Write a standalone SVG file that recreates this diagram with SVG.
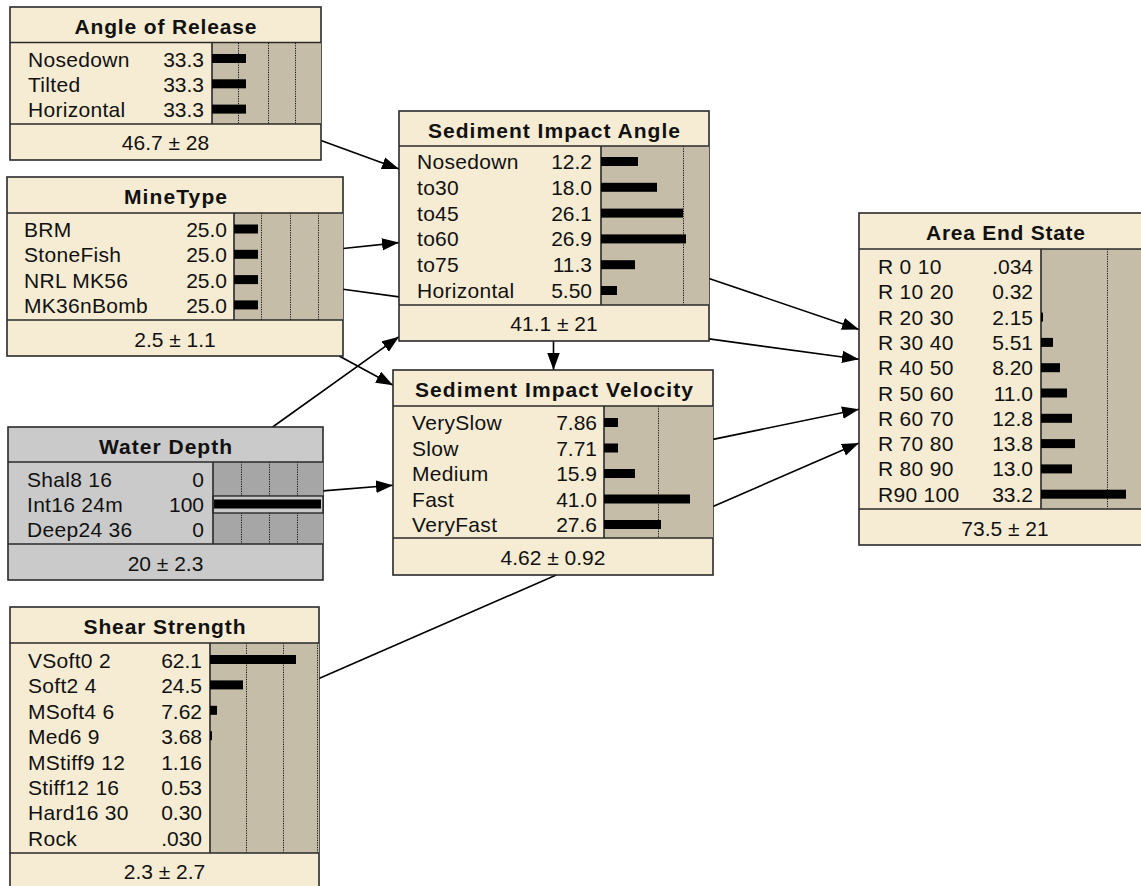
<svg xmlns="http://www.w3.org/2000/svg" width="1141" height="886" viewBox="0 0 1141 886">
  <style>
    text { font-family: "Liberation Sans", Arial, sans-serif; fill: #111; }
    .box { fill: #f6ecd4; stroke: #2a2a2a; stroke-width: 1.6; }
    .bararea { fill: #c6bda9; }
    .sep { stroke: #2a2a2a; stroke-width: 1.6; fill: none; }
    .dot { stroke: #111; stroke-width: 1; stroke-dasharray: 1.2 1.2; }
    .bar { fill: #000; }
    .title { font-size: 21px; font-weight: bold; text-anchor: middle; }
    .lbl { font-size: 21px; letter-spacing: 0.3px; }
    .val { font-size: 21px; text-anchor: end; }
    .foot { font-size: 21px; text-anchor: middle; }
    .link { stroke: #000; stroke-width: 1.6; fill: none; }
    .gray .box { fill: #cacaca; }
    .gray .bararea { fill: #a6a6a6; }
    .band { fill: #c8c8c8; stroke: #111; stroke-width: 1.2; }
  </style>
  <defs>
    <marker id="arrow" markerUnits="userSpaceOnUse" markerWidth="18" markerHeight="13" refX="17" refY="6.25" orient="auto">
      <path d="M0,0 L17,6.25 L0,12.5 z" fill="#000"/>
    </marker>
  </defs>

  <!-- links between nodes (centre to centre, clipped at the box edges) -->
  <g id="connectors">
    <line class="link" x1="321" y1="140.5" x2="399" y2="169.1" marker-end="url(#arrow)"/>
    <line class="link" x1="343" y1="248.5" x2="399" y2="242.6" marker-end="url(#arrow)"/>
    <line class="link" x1="339.2" y1="356" x2="393" y2="385.3" marker-end="url(#arrow)"/>
    <line class="link" x1="343" y1="289.3" x2="399" y2="296.9"/>
    <line class="link" x1="709" y1="338.9" x2="859" y2="359.2" marker-end="url(#arrow)"/>
    <line class="link" x1="553.5" y1="341" x2="553.5" y2="370" marker-end="url(#arrow)"/>
    <line class="link" x1="709" y1="278.5" x2="859" y2="329.4" marker-end="url(#arrow)"/>
    <line class="link" x1="713" y1="439.4" x2="859" y2="409.2" marker-end="url(#arrow)"/>
    <line class="link" x1="272.6" y1="427" x2="399" y2="336.7" marker-end="url(#arrow)"/>
    <line class="link" x1="323" y1="490.9" x2="393" y2="485.3" marker-end="url(#arrow)"/>
    <line class="link" x1="319" y1="678.6" x2="556.3" y2="575"/>
    <line class="link" x1="713" y1="506.6" x2="859" y2="442.9" marker-end="url(#arrow)"/>
  </g>

  <!-- Angle of Release -->
  <g id="node-angle-of-release">
    <rect class="box" x="10" y="7" width="311" height="153"/>
    <rect class="bararea" x="212" y="42.5" width="109" height="81.5"/>
    <line class="dot" x1="238.5" y1="43" x2="238.5" y2="124"/>
    <line class="dot" x1="268.5" y1="43" x2="268.5" y2="124"/>
    <line class="dot" x1="295.5" y1="43" x2="295.5" y2="124"/>
    <path class="sep" d="M10,42.5 H321 M212,42.5 V124 M10,124 H321"/>
    <text class="title" x="165.5" y="33.5" textLength="182" lengthAdjust="spacing">Angle of Release</text>
    <text class="lbl" x="28" y="66.5">Nosedown</text>
    <text class="lbl" x="28" y="91.8">Tilted</text>
    <text class="lbl" x="28" y="117.1">Horizontal</text>
    <text class="val" x="204" y="66.5">33.3</text>
    <text class="val" x="204" y="91.8">33.3</text>
    <text class="val" x="204" y="117.1">33.3</text>
    <rect class="bar" x="212" y="54" width="34" height="9"/>
    <rect class="bar" x="212" y="79.3" width="34" height="9"/>
    <rect class="bar" x="212" y="104.6" width="34" height="9"/>
    <text class="foot" x="165.5" y="150">46.7 ± 28</text>
  </g>

  <!-- MineType -->
  <g id="node-minetype">
    <rect class="box" x="7" y="177" width="336" height="179"/>
    <rect class="bararea" x="234" y="213" width="109" height="107"/>
    <line class="dot" x1="261.5" y1="213" x2="261.5" y2="320"/>
    <line class="dot" x1="290.5" y1="213" x2="290.5" y2="320"/>
    <line class="dot" x1="318.5" y1="213" x2="318.5" y2="320"/>
    <path class="sep" d="M7,213 H343 M234,213 V320 M7,320 H343"/>
    <text class="title" x="175.5" y="203.5" textLength="103" lengthAdjust="spacing">MineType</text>
    <text class="lbl" x="24" y="237">BRM</text>
    <text class="lbl" x="24" y="262.3">StoneFish</text>
    <text class="lbl" x="24" y="287.6">NRL MK56</text>
    <text class="lbl" x="24" y="312.9">MK36nBomb</text>
    <text class="val" x="227" y="237">25.0</text>
    <text class="val" x="227" y="262.3">25.0</text>
    <text class="val" x="227" y="287.6">25.0</text>
    <text class="val" x="227" y="312.9">25.0</text>
    <rect class="bar" x="234" y="224.5" width="24" height="9"/>
    <rect class="bar" x="234" y="249.8" width="24" height="9"/>
    <rect class="bar" x="234" y="275.1" width="24" height="9"/>
    <rect class="bar" x="234" y="300.4" width="24" height="9"/>
    <text class="foot" x="175" y="347">2.5 ± 1.1</text>
  </g>

  <!-- Sediment Impact Angle -->
  <g id="node-sediment-impact-angle">
    <rect class="box" x="399" y="111" width="310" height="230"/>
    <rect class="bararea" x="601" y="146" width="108" height="159"/>
    <line class="dot" x1="683.5" y1="146" x2="683.5" y2="305"/>
    <path class="sep" d="M399,146 H709 M601,146 V305 M399,305 H709"/>
    <text class="title" x="554" y="137.5" textLength="252" lengthAdjust="spacing">Sediment Impact Angle</text>
    <text class="lbl" x="417" y="169">Nosedown</text>
    <text class="lbl" x="417" y="194.8">to30</text>
    <text class="lbl" x="417" y="220.6">to45</text>
    <text class="lbl" x="417" y="246.4">to60</text>
    <text class="lbl" x="417" y="272.2">to75</text>
    <text class="lbl" x="417" y="298">Horizontal</text>
    <text class="val" x="592" y="169">12.2</text>
    <text class="val" x="592" y="194.8">18.0</text>
    <text class="val" x="592" y="220.6">26.1</text>
    <text class="val" x="592" y="246.4">26.9</text>
    <text class="val" x="592" y="272.2">11.3</text>
    <text class="val" x="592" y="298">5.50</text>
    <rect class="bar" x="601" y="157" width="37" height="9"/>
    <rect class="bar" x="601" y="182.8" width="56" height="9"/>
    <rect class="bar" x="601" y="208.6" width="82" height="9"/>
    <rect class="bar" x="601" y="234.4" width="85" height="9"/>
    <rect class="bar" x="601" y="260.2" width="34" height="9"/>
    <rect class="bar" x="601" y="286" width="16" height="9"/>
    <text class="foot" x="554" y="331">41.1 ± 21</text>
  </g>

  <!-- Sediment Impact Velocity -->
  <g id="node-sediment-impact-velocity">
    <rect class="box" x="393" y="370" width="320" height="205"/>
    <rect class="bararea" x="604" y="406" width="109" height="132"/>
    <line class="dot" x1="658.5" y1="406" x2="658.5" y2="538"/>
    <path class="sep" d="M393,406 H713 M604,406 V538 M393,538 H713"/>
    <text class="title" x="554" y="397" textLength="278" lengthAdjust="spacing">Sediment Impact Velocity</text>
    <text class="lbl" x="412" y="430">VerySlow</text>
    <text class="lbl" x="412" y="455.5">Slow</text>
    <text class="lbl" x="412" y="481">Medium</text>
    <text class="lbl" x="412" y="506.5">Fast</text>
    <text class="lbl" x="412" y="532">VeryFast</text>
    <text class="val" x="597" y="430">7.86</text>
    <text class="val" x="597" y="455.5">7.71</text>
    <text class="val" x="597" y="481">15.9</text>
    <text class="val" x="597" y="506.5">41.0</text>
    <text class="val" x="597" y="532">27.6</text>
    <rect class="bar" x="604" y="418" width="14" height="9"/>
    <rect class="bar" x="604" y="443.5" width="14" height="9"/>
    <rect class="bar" x="604" y="469" width="31" height="9"/>
    <rect class="bar" x="604" y="494.5" width="86" height="9"/>
    <rect class="bar" x="604" y="520" width="57" height="9"/>
    <text class="foot" x="553" y="565">4.62 ± 0.92</text>
  </g>

  <!-- Area End State -->
  <g id="node-area-end-state">
    <rect class="box" x="859" y="213" width="293" height="332"/>
    <rect class="bararea" x="1041" y="249" width="111" height="260"/>
    <line class="dot" x1="1107.5" y1="249" x2="1107.5" y2="509"/>
    <path class="sep" d="M859,249 H1152 M1041,249 V509 M859,509 H1152"/>
    <text class="title" x="1005.5" y="240" textLength="159" lengthAdjust="spacing">Area End State</text>
    <text class="lbl" x="878" y="274">R 0 10</text>
    <text class="lbl" x="878" y="299.3">R 10 20</text>
    <text class="lbl" x="878" y="324.6">R 20 30</text>
    <text class="lbl" x="878" y="349.9">R 30 40</text>
    <text class="lbl" x="878" y="375.2">R 40 50</text>
    <text class="lbl" x="878" y="400.5">R 50 60</text>
    <text class="lbl" x="878" y="425.8">R 60 70</text>
    <text class="lbl" x="878" y="451.1">R 70 80</text>
    <text class="lbl" x="878" y="476.4">R 80 90</text>
    <text class="lbl" x="878" y="501.7">R90 100</text>
    <text class="val" x="1033" y="274">.034</text>
    <text class="val" x="1033" y="299.3">0.32</text>
    <text class="val" x="1033" y="324.6">2.15</text>
    <text class="val" x="1033" y="349.9">5.51</text>
    <text class="val" x="1033" y="375.2">8.20</text>
    <text class="val" x="1033" y="400.5">11.0</text>
    <text class="val" x="1033" y="425.8">12.8</text>
    <text class="val" x="1033" y="451.1">13.8</text>
    <text class="val" x="1033" y="476.4">13.0</text>
    <text class="val" x="1033" y="501.7">33.2</text>
    <rect class="bar" x="1041" y="312.6" width="2" height="9"/>
    <rect class="bar" x="1041" y="337.9" width="12" height="9"/>
    <rect class="bar" x="1041" y="363.2" width="19" height="9"/>
    <rect class="bar" x="1041" y="388.5" width="26" height="9"/>
    <rect class="bar" x="1041" y="413.8" width="31" height="9"/>
    <rect class="bar" x="1041" y="439.1" width="34" height="9"/>
    <rect class="bar" x="1041" y="464.4" width="31" height="9"/>
    <rect class="bar" x="1041" y="489.7" width="85" height="9"/>
    <text class="foot" x="1005" y="536">73.5 ± 21</text>
  </g>

  <!-- Water Depth (observed node, shown in grey) -->
  <g id="node-water-depth" class="gray">
    <rect class="box" x="8" y="427" width="315" height="153"/>
    <rect class="bararea" x="213" y="462" width="110" height="82"/>
    <line class="dot" x1="241.5" y1="462" x2="241.5" y2="544"/>
    <line class="dot" x1="269.5" y1="462" x2="269.5" y2="544"/>
    <line class="dot" x1="297.5" y1="462" x2="297.5" y2="544"/>
    <rect class="band" x="213" y="496" width="110" height="17"/>
    <rect class="bar" x="214" y="499.5" width="107" height="9"/>
    <path class="sep" d="M8,462 H323 M213,462 V544 M8,544 H323"/>
    <text class="title" x="165.5" y="453.5" textLength="133" lengthAdjust="spacing">Water Depth</text>
    <text class="lbl" x="27" y="487">Shal8 16</text>
    <text class="lbl" x="27" y="512">Int16 24m</text>
    <text class="lbl" x="27" y="537">Deep24 36</text>
    <text class="val" x="204" y="487">0</text>
    <text class="val" x="204" y="512">100</text>
    <text class="val" x="204" y="537">0</text>
    <text class="foot" x="165.5" y="571">20 ± 2.3</text>
  </g>

  <!-- Shear Strength -->
  <g id="node-shear-strength">
    <rect class="box" x="10" y="607" width="309" height="282"/>
    <rect class="bararea" x="210" y="643" width="109" height="210"/>
    <line class="dot" x1="246.5" y1="643" x2="246.5" y2="853"/>
    <line class="dot" x1="283.5" y1="643" x2="283.5" y2="853"/>
    <line class="dot" x1="317.5" y1="643" x2="317.5" y2="853"/>
    <path class="sep" d="M10,643 H319 M210,643 V853 M10,853 H319"/>
    <text class="title" x="164.5" y="633.5" textLength="162" lengthAdjust="spacing">Shear Strength</text>
    <text class="lbl" x="28" y="668">VSoft0 2</text>
    <text class="lbl" x="28" y="693.4">Soft2 4</text>
    <text class="lbl" x="28" y="718.8">MSoft4 6</text>
    <text class="lbl" x="28" y="744.2">Med6 9</text>
    <text class="lbl" x="28" y="769.6">MStiff9 12</text>
    <text class="lbl" x="28" y="795">Stiff12 16</text>
    <text class="lbl" x="28" y="820.4">Hard16 30</text>
    <text class="lbl" x="28" y="845.8">Rock</text>
    <text class="val" x="202" y="668">62.1</text>
    <text class="val" x="202" y="693.4">24.5</text>
    <text class="val" x="202" y="718.8">7.62</text>
    <text class="val" x="202" y="744.2">3.68</text>
    <text class="val" x="202" y="769.6">1.16</text>
    <text class="val" x="202" y="795">0.53</text>
    <text class="val" x="202" y="820.4">0.30</text>
    <text class="val" x="202" y="845.8">.030</text>
    <rect class="bar" x="210" y="655" width="86" height="9"/>
    <rect class="bar" x="210" y="680.4" width="33" height="9"/>
    <rect class="bar" x="210" y="705.8" width="7" height="9"/>
    <rect class="bar" x="210" y="731.2" width="2" height="9"/>
    <text class="foot" x="164.5" y="879">2.3 ± 2.7</text>
  </g>
</svg>
